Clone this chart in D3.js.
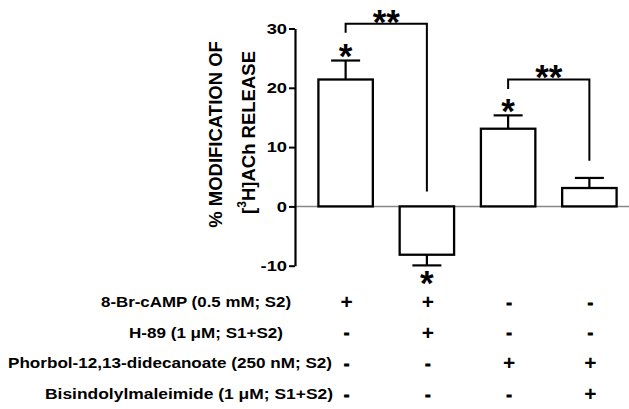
<!DOCTYPE html>
<html>
<head>
<meta charset="utf-8">
<script src="https://cdn.jsdelivr.net/npm/d3@7"></script>
<style>
body { margin: 0; background: #fff; }
text { font-family: Arial, "Liberation Sans", sans-serif; font-weight: bold; fill: #000; }
</style>
</head>
<body>
<svg width="629" height="409"></svg>
<script>
// data
const groups = ["A", "B", "C", "D"];
const means = [21.4, -8.15, 13.1, 3.1];
const sems = [3.2, 1.8, 2.25, 1.7];
const starred = [true, true, true, false];
const yTicks = [-10, 0, 10, 20, 30];

const treatments = [
    "8-Br-cAMP (0.5 mM; S2)",
    "H-89 (1 \u03bcM; S1+S2)",
    "Phorbol-12,13-didecanoate (250 nM; S2)",
    "Bisindolylmaleimide (1 \u03bcM; S1+S2)"
];
const signs = [
    ["+", "+", "-", "-"],
    ["-", "+", "-", "-"],
    ["-", "-", "+", "+"],
    ["-", "-", "-", "+"]
];

// significance brackets (in data units)
const bracketFrom = [0, 2];
const bracketTo = [1, 3];
const bracketTop = [30.8, 21.4];
const bracketLeftEnd = [29.3, 19.8];
const bracketRightEnd = [2.5, 7.7];

var svg = d3.select("svg");
var axisX = 295;

var x = d3.scaleBand()
    .domain(groups)
    .range([305, 630])
    .paddingInner(0.33)
    .paddingOuter(0.165);

var y = d3.scaleLinear()
    .domain([-10, 30])
    .range([265.7, 28.5]);

function fit(sel, w) {
    sel.attr("textLength", w).attr("lengthAdjust", "spacingAndGlyphs");
}

// zero line
svg.append("line")
    .attr("x1", axisX).attr("x2", 629)
    .attr("y1", y(0)).attr("y2", y(0))
    .attr("stroke", "#888").attr("stroke-width", 1.5);

// bars
svg.append("g")
    .selectAll("rect")
    .data(means)
    .enter()
    .append("rect")
    .attr("x", (d, i) => x(groups[i]))
    .attr("width", x.bandwidth())
    .attr("y", d => y(Math.max(0, d)))
    .attr("height", d => Math.abs(y(d) - y(0)))
    .attr("fill", "#fff")
    .attr("stroke", "#000")
    .attr("stroke-width", 2.3);

// error bars (outward only)
var err = svg.append("g").attr("stroke", "#000").attr("stroke-width", 2.2);
means.forEach((m, i) => {
    var cx = x(groups[i]) + x.bandwidth() / 2;
    var end = m >= 0 ? m + sems[i] : m - sems[i];
    err.append("line").attr("x1", cx).attr("x2", cx).attr("y1", y(m)).attr("y2", y(end));
    err.append("line").attr("x1", cx - 14.5).attr("x2", cx + 14.5).attr("y1", y(end)).attr("y2", y(end));
});

// y axis
var axis = svg.append("g")
    .attr("transform", `translate(${axisX},0)`)
    .call(d3.axisLeft(y).tickValues(yTicks).tickFormat(d => String(d))
        .tickSize(6).tickSizeOuter(0).tickPadding(2));
axis.select(".domain").attr("stroke-width", 2.2);
axis.selectAll(".tick line").attr("stroke-width", 2);
axis.selectAll(".tick text")
    .attr("font-size", 15)
    .style("font-family", "Arial, 'Liberation Sans', sans-serif")
    .style("font-weight", "bold")
    .each(function () {
        var w = this.getComputedTextLength();
        fit(d3.select(this), w * 1.22);
    });

// y title
var title = svg.append("g");
title.append("text")
    .attr("transform", "translate(222,134.5) rotate(-90)")
    .attr("text-anchor", "middle")
    .attr("font-size", 18.5)
    .text("% MODIFICATION OF");
var t2 = title.append("text")
    .attr("transform", "translate(255,132.5) rotate(-90)")
    .attr("text-anchor", "middle")
    .attr("font-size", 18.5);
t2.append("tspan").text("[");
t2.append("tspan").attr("font-size", 12).attr("dy", -9).text("3");
t2.append("tspan").attr("dy", 9).text("H]ACh RELEASE");

// asterisks
var starSize = 35;
function star(cx, cy, s) {
    svg.append("text")
        .attr("x", cx)
        .attr("y", cy + 0.57 * starSize)
        .attr("text-anchor", "middle")
        .attr("font-size", starSize)
        .text(s);
}
means.forEach((m, i) => {
    if (!starred[i]) return;
    var cx = x(groups[i]) + x.bandwidth() / 2;
    if (m >= 0) star(cx, y(m + sems[i]) - 12.7, "*");
    else star(cx, y(m - sems[i]) + 9.5, "*");
});

// brackets
var br = svg.append("g").attr("stroke", "#000").attr("stroke-width", 2).attr("fill", "none");
bracketFrom.forEach((f, i) => {
    var x1 = x(groups[f]) + x.bandwidth() / 2;
    var x2 = x(groups[bracketTo[i]]) + x.bandwidth() / 2;
    br.append("path")
        .attr("d", `M${x1},${y(bracketLeftEnd[i])}V${y(bracketTop[i])}H${x2}V${y(bracketRightEnd[i])}`);
    star((x1 + x2) / 2, y(bracketTop[i]) - 10, "**");
});

// treatment table
var rowY = [302, 332.5, 363, 394];
var labelSpan = [[101, 291], [129, 283], [8, 332], [45, 333]];
treatments.forEach((t, r) => {
    var lab = svg.append("text")
        .attr("x", labelSpan[r][0])
        .attr("y", rowY[r])
        .attr("dy", "0.35em")
        .attr("font-size", 14.5)
        .text(t);
    fit(lab, labelSpan[r][1] - labelSpan[r][0]);
    signs[r].forEach((s, c) => {
        var sign = svg.append("text")
            .attr("x", x(groups[c]) + x.bandwidth() / 2 + 1)
            .attr("y", rowY[r])
            .attr("dy", "0.35em")
            .attr("text-anchor", "middle")
            .attr("font-size", s === "+" ? 21 : 17)
            .text(s);
        if (s === "-") sign.attr("stroke", "#000").attr("stroke-width", 0.8);
    });
});
</script>
</body>
</html>
